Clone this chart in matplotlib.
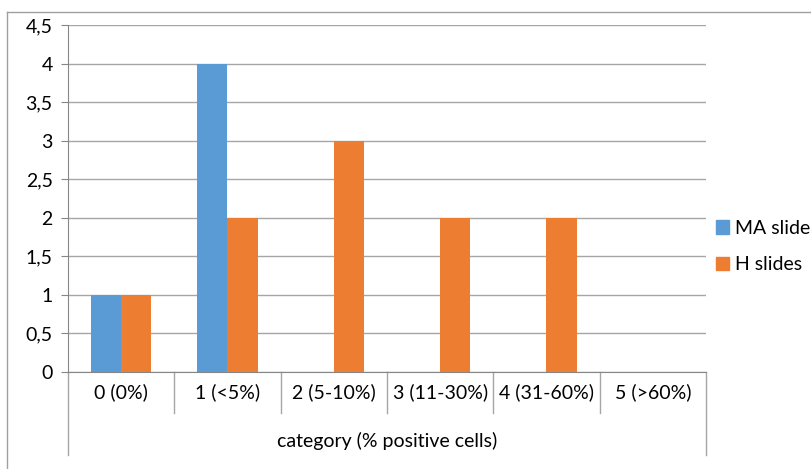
import matplotlib.pyplot as plt
from matplotlib.lines import Line2D
from matplotlib.patches import Patch

# data
categories = ['0 (0%)', '1 (<5%)', '2 (5-10%)', '3 (11-30%)', '4 (31-60%)', '5 (>60%)']
ma_slides = [1, 4, 0, 0, 0, 0]
h_slides = [1, 2, 3, 2, 2, 0]
y_ticks = [0, 0.5, 1, 1.5, 2, 2.5, 3, 3.5, 4, 4.5]

blue = '#5B9BD5'
orange = '#ED7D31'
grid = '#A6A6A6'
axis_c = '#868686'

plt.rcParams['font.family'] = ['Lato', 'DejaVu Sans']
fs = 14

W, H = 812, 469
fig = plt.figure(figsize=(W / 100, H / 100), dpi=100)
ax = fig.add_axes([68 / W, 1 - 372 / H, (706 - 68) / W, (372 - 25) / H])

x = range(len(categories))
bw = 0.283
ax.bar([i - bw / 2 for i in x], ma_slides, width=bw, color=blue, label='MA slides', zorder=3)
ax.bar([i + bw / 2 for i in x], h_slides, width=bw, color=orange, label='H slides', zorder=3)

ax.set_xlim(-0.5, len(categories) - 0.5)
ax.set_ylim(0, 4.5)
ax.set_yticks(y_ticks)
ax.set_yticklabels([('%g' % v).replace('.', ',') for v in y_ticks], fontsize=fs)
ax.yaxis.grid(True, color=grid, linewidth=1, zorder=0)
ax.set_xticks([])
for s in ['top', 'right']:
    ax.spines[s].set_visible(False)
ax.spines['left'].set_color(axis_c)
ax.spines['bottom'].set_color(axis_c)
ax.tick_params(axis='y', length=5, color=axis_c, pad=6)

# category labels and separators
tr = ax.get_xaxis_transform()
for i, c in enumerate(categories):
    ax.text(i, -20 / 347, c, transform=tr, ha='center', va='center', fontsize=fs)
for i in range(1, len(categories)):
    ax.plot([i - 0.5, i - 0.5], [0, -41 / 347], transform=tr, color=grid, lw=1, clip_on=False)
for xe in [-0.5, len(categories) - 0.5]:
    ax.plot([xe, xe], [0, -83 / 347], transform=tr, color=grid, lw=1, clip_on=False)
ax.text(2.5, -69 / 347, 'category (% positive cells)', transform=tr, ha='center', va='center', fontsize=fs)

# outer chart border
fig.add_artist(Line2D([7 / W, 7 / W], [0, 1 - 12 / H], color='#A0A0A0', lw=1))
fig.add_artist(Line2D([7 / W, 1], [1 - 12 / H, 1 - 12 / H], color='#A0A0A0', lw=1))

handles = [Patch(color=blue), Patch(color=orange)]
fig.legend(handles, ['MA slides', 'H slides'], loc='upper left',
           bbox_to_anchor=(708 / W, 1 - 212 / H), frameon=False, fontsize=fs,
           handlelength=0.7, handleheight=0.7, handletextpad=0.3, labelspacing=1.0,
           borderaxespad=0)

fig.savefig('out.png', dpi=100)
